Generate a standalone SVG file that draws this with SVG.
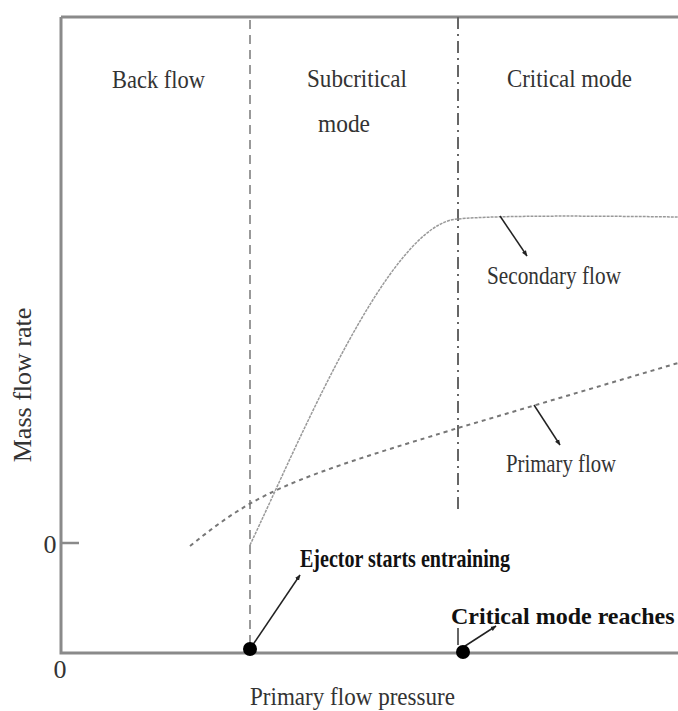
<svg xmlns="http://www.w3.org/2000/svg" width="678" height="711" viewBox="0 0 678 711">
<style>
  .lbl { font-family: "Liberation Serif", "Times New Roman", serif; font-size: 26px; fill: #333; }
  .bold { font-family: "Liberation Serif", "Times New Roman", serif; font-weight: bold; fill: #111; }
  .axis { stroke: #8a8a8a; stroke-width: 3; fill: none; }
  .arrow { stroke: #222; stroke-width: 1.5; fill: none; marker-end: url(#ah); }
</style>
<defs>
  <marker id="ah" viewBox="0 0 10 10" refX="9" refY="5" markerWidth="6" markerHeight="6" orient="auto" markerUnits="userSpaceOnUse">
    <path d="M0,1 L10,5 L0,9 Z" fill="#222"/>
  </marker>
</defs>
<rect width="678" height="711" fill="#fff"/>
<g id="axes">
  <path class="axis" d="M61,17 L678,17"/>
  <path class="axis" d="M61,17 L61,653 L678,653"/>
  <path d="M61,543 L79,543" stroke="#8a8a8a" stroke-width="2.5"/>
</g>
<g id="boundaries">
  <path d="M250,20 L250,650" stroke="#999" stroke-width="2" stroke-dasharray="9,6"/>
  <path d="M458,17 L458,510" stroke="#666" stroke-width="2" stroke-dasharray="12,5,2,5"/>
  <path d="M458,628 L458,645" stroke="#666" stroke-width="2"/>
</g>
<g id="curves">
  <path id="secondary" d="M250,545 C300,440 390,222 458,219 C500,215 600,216 678,217" stroke="#999" stroke-width="1.5" fill="none" stroke-dasharray="3,1"/>
  <path id="primary" d="M190,546 C225,518 250,500 300,480 S420,440 458,428 L678,363" stroke="#777" stroke-width="2" fill="none" stroke-dasharray="4,4"/>
</g>
<g id="connectors">
  <path class="arrow" d="M500,216 L527,256"/>
  <path class="arrow" d="M534,405 L560,445"/>
  <path class="arrow" d="M252,646 L300,575"/>
  <path class="arrow" d="M462,648 L496,626"/>
</g>
<g id="points">
  <circle cx="250" cy="649" r="7" fill="#000"/>
  <circle cx="463" cy="652" r="7" fill="#000"/>
</g>
<g id="regions">
  <text class="lbl" x="112" y="88" textLength="93" lengthAdjust="spacingAndGlyphs">Back flow</text>
  <text class="lbl" x="307" y="87" textLength="100" lengthAdjust="spacingAndGlyphs">Subcritical</text>
  <text class="lbl" x="318" y="132" textLength="52" lengthAdjust="spacingAndGlyphs">mode</text>
  <text class="lbl" x="507" y="87" textLength="125" lengthAdjust="spacingAndGlyphs">Critical mode</text>
</g>
<g id="labels">
  <text class="lbl" x="487" y="284" textLength="134" lengthAdjust="spacingAndGlyphs">Secondary flow</text>
  <text class="lbl" x="506" y="472" textLength="110" lengthAdjust="spacingAndGlyphs">Primary flow</text>
  <text class="bold" x="300" y="567" font-size="25" textLength="210" lengthAdjust="spacingAndGlyphs">Ejector starts entraining</text>
  <text class="bold" x="451" y="624" font-size="24">Critical mode reaches</text>
  <text class="lbl" x="50" y="553" font-size="22" text-anchor="middle">0</text>
  <text class="lbl" x="60" y="678" font-size="22" text-anchor="middle">0</text>
  <text class="lbl" x="250" y="705" textLength="205" lengthAdjust="spacingAndGlyphs">Primary flow pressure</text>
  <text class="lbl" transform="translate(31,385) rotate(-90)" text-anchor="middle">Mass flow rate</text>
</g>
</svg>
